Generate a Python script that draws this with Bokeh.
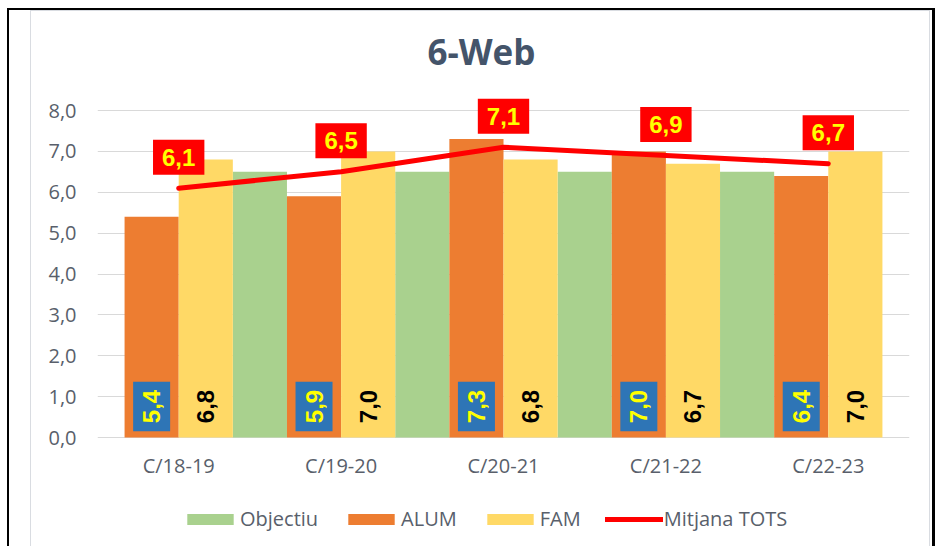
import numpy as np
from bokeh.plotting import figure
from bokeh.models import (Range1d, FixedTicker, Legend, LegendItem, ColumnDataSource)
from bokeh.core.properties import value
from bokeh.embed import file_html
from bokeh.resources import INLINE

# ---------------- data ----------------
title_text = "6-Web"
categories = ["C/18-19", "C/19-20", "C/20-21", "C/21-22", "C/22-23"]
alum = [5.4, 5.9, 7.3, 7.0, 6.4]
fam = [6.8, 7.0, 6.8, 6.7, 7.0]
mitjana = [6.1, 6.5, 7.1, 6.9, 6.7]
objectiu = [6.5, 6.5, 6.5, 6.5]          # drawn between consecutive courses
y_ticks = [0, 1, 2, 3, 4, 5, 6, 7, 8]
y_tick_labels = ["0,0", "1,0", "2,0", "3,0", "4,0", "5,0", "6,0", "7,0", "8,0"]
series_names = ["Objectiu", "ALUM", "FAM", "Mitjana TOTS"]

# ---------------- styles ----------------
GREEN = "#A9D18E"
ORANGE = "#ED7D31"
YELLOW = "#FFD966"
RED = "#FF0000"
BLUE = "#2E75B6"
LABEL_YELLOW = "#FFFF00"
AXIS_TXT = "#595F6B"
TITLE_TXT = "#44546A"
GRID = "#D9D9D9"
CHART_BORDER = "#D9DCE1"
UI_FONT = "Open Sans"
NUM_FONT = value("Liberation Sans")


def fmt(v):
    return f"{v:.1f}".replace(".", ",")


# frame geometry: 40.875 px per unit, frame spans 463 px vertically
PX_UNIT = 40.875
Y_TOP = 360 / PX_UNIT
Y_BOT = -103 / PX_UNIT

W, H = 928, 538
p = figure(width=W, height=H, output_backend="svg", toolbar_location=None,
           x_range=Range1d(-0.5, 4.5), y_range=Range1d(Y_BOT, Y_TOP),
           min_border_left=88, min_border_right=28,
           min_border_top=67, min_border_bottom=8)
p.background_fill_color = "white"
p.border_fill_alpha = 0
p.outline_line_color = None
p.styles = {
    "margin-left": "7px",
    "margin-top": "8px",
    "border-top": "2px solid black",
    "border-left": "2px solid black",
    "border-right": "3px solid black",
    "background-color": "white",
    "box-shadow": ("inset 21px 0 0 0 white, inset -2px 0 0 0 white, "
                   "inset 22px 0 0 0 " + CHART_BORDER + ", inset -3px 0 0 0 " + CHART_BORDER + ", "
                   "inset 0 1px 0 0 " + CHART_BORDER),
}

# title
p.title.text = title_text
p.title.text_font = UI_FONT
p.title.text_font_style = "bold"
p.title.text_font_size = "35px"
p.title.text_color = TITLE_TXT
p.title.align = "left"
p.title.offset = 330
p.title.standoff = 6

# grid & axes
p.xgrid.visible = False
p.ygrid.ticker = FixedTicker(ticks=y_ticks)
p.ygrid.grid_line_color = GRID
p.ygrid.grid_line_width = 1

p.yaxis.ticker = FixedTicker(ticks=y_ticks)
p.yaxis.major_label_overrides = {t: l for t, l in zip(y_ticks, y_tick_labels)}
p.yaxis.axis_line_color = None
p.yaxis.major_tick_line_color = None
p.yaxis.minor_tick_line_color = None
p.yaxis.major_tick_in = 0
p.yaxis.major_tick_out = 0
p.yaxis.major_label_standoff = 21
p.yaxis.major_label_text_font = UI_FONT
p.yaxis.major_label_text_font_size = "20px"
p.yaxis.major_label_text_color = AXIS_TXT

idx = list(range(len(categories)))
p.xaxis.ticker = FixedTicker(ticks=idx)
p.xaxis.major_label_overrides = {i: c for i, c in zip(idx, categories)}
p.xaxis.fixed_location = -1.0
p.xaxis.axis_line_color = None
p.xaxis.major_tick_line_color = None
p.xaxis.minor_tick_line_color = None
p.xaxis.major_tick_in = 0
p.xaxis.major_tick_out = 0
p.xaxis.major_label_standoff = -26
p.xaxis.major_label_text_font = UI_FONT
p.xaxis.major_label_text_font_size = "20px"
p.xaxis.major_label_text_color = AXIS_TXT

BW = 1 / 3
obj_src = ColumnDataSource(dict(x=[i + 0.5 for i in range(len(objectiu))], top=objectiu))
alum_src = ColumnDataSource(dict(x=[i - BW / 2 for i in idx], top=alum,
                                 lab=[fmt(v) for v in alum], y0=[0] * len(alum)))
fam_src = ColumnDataSource(dict(x=[i + BW / 2 for i in idx], top=fam,
                                lab=[fmt(v) for v in fam], y0=[0] * len(fam)))
mit_src = ColumnDataSource(dict(x=idx, y=mitjana, lab=[fmt(v) for v in mitjana]))

r_obj = p.vbar(x="x", top="top", width=BW, source=obj_src, fill_color=GREEN, line_color=None)
r_alum = p.vbar(x="x", top="top", width=BW, source=alum_src, fill_color=ORANGE, line_color=None)
r_fam = p.vbar(x="x", top="top", width=BW, source=fam_src, fill_color=YELLOW, line_color=None)
r_line = p.line(x="x", y="y", source=mit_src, line_color=RED, line_width=5, line_cap="round")

# value labels
p.text(x="x", y="y0", text="lab", source=alum_src, angle=np.pi / 2,
       text_font=NUM_FONT, text_font_style="bold", text_font_size="24px",
       text_color=LABEL_YELLOW, text_align="center", text_baseline="middle",
       y_offset=-31, background_fill_color=BLUE,
       padding=dict(left=8, right=8, top=10, bottom=10))
p.text(x="x", y="y0", text="lab", source=fam_src, angle=np.pi / 2,
       text_font=NUM_FONT, text_font_style="bold", text_font_size="24px",
       text_color="black", text_align="center", text_baseline="middle",
       y_offset=-31)
p.text(x="x", y="y", text="lab", source=mit_src,
       text_font=NUM_FONT, text_font_style="bold", text_font_size="24px",
       text_color=LABEL_YELLOW, text_align="center", text_baseline="middle",
       y_offset=-31, background_fill_color=RED,
       padding=dict(left=9, right=9, top=9, bottom=9))

# legend (inside the extended frame, below the category labels)
legend = Legend(items=[LegendItem(label=series_names[0], renderers=[r_obj]),
                       LegendItem(label=series_names[1], renderers=[r_alum]),
                       LegendItem(label=series_names[2], renderers=[r_fam]),
                       LegendItem(label=series_names[3], renderers=[r_line])],
                orientation="horizontal", location=(84, 8),
                glyph_width=58, glyph_height=14, label_standoff=1, spacing=24,
                padding=0, margin=0, border_line_color=None,
                background_fill_alpha=0,
                label_text_font=UI_FONT, label_text_font_size="20px",
                label_text_color=AXIS_TXT)
p.add_layout(legend, "center")

open("out.html", "w").write(file_html(p, INLINE))
